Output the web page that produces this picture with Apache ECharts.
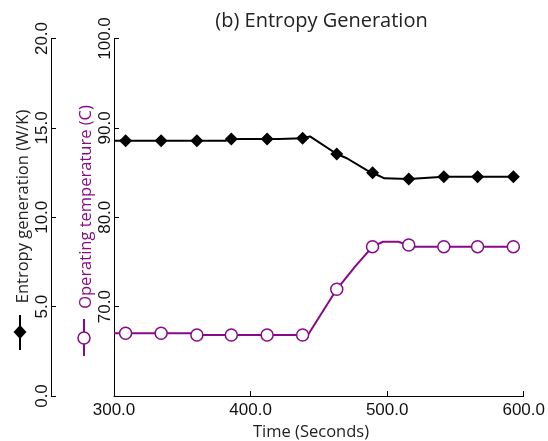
<!DOCTYPE html>
<html>
<head>
<meta charset="utf-8">
<script src="https://cdn.jsdelivr.net/npm/echarts@6/dist/echarts.min.js"></script>
<style>
html,body{margin:0;padding:0;background:#fff;}
#chart{width:548px;height:441px;}
</style>
</head>
<body>
<div id="chart"></div>
<script>
// Marker times (seconds)
var markerTimes = [308.5, 334.5, 360.7, 385.9, 412.1, 438.1, 463.1, 489.3, 515.8, 541.5, 566.2, 592.4];
// Entropy generation (W/K) at markers
var entropyMarkers = [14.28, 14.28, 14.28, 14.38, 14.38, 14.42, 13.54, 12.49, 12.14, 12.27, 12.27, 12.27];
// Operating temperature (C) at markers
var tempMarkers = [67.02, 67.02, 66.83, 66.83, 66.83, 66.83, 71.94, 76.71, 76.90, 76.71, 76.71, 76.71];
// Full entropy trace: times and values
var entropyTimes = [300, 308.5, 334.5, 360.7, 381.5, 382.5, 385.9, 412.1, 421, 422, 438.1, 443.5, 463.1, 470.5, 485, 489.3, 498, 515.8, 541.5, 566.2, 592.4];
var entropyValues = [14.28, 14.28, 14.28, 14.28, 14.28, 14.38, 14.38, 14.38, 14.38, 14.42, 14.42, 14.52, 13.54, 13.30, 12.64, 12.49, 12.18, 12.14, 12.27, 12.27, 12.27];
// Full temperature trace: times and values
var tempTimes = [300, 308.5, 334.5, 356, 357, 360.7, 385.9, 412.1, 438.1, 442, 452, 463.1, 476.5, 489.3, 497, 508, 515.8, 520, 541.5, 566.2, 592.4];
var tempValues = [67.02, 67.02, 67.02, 67.02, 66.83, 66.83, 66.83, 66.83, 66.83, 66.83, 69.25, 71.94, 74.47, 76.71, 77.26, 77.26, 76.90, 76.71, 76.71, 76.71, 76.71];
// Texts
var titleText = '(b) Entropy Generation';
var xName = 'Time (Seconds)';
var entropyName = 'Entropy generation (W/K)';
var tempName = 'Operating temperature (C)';

function zip(a, b) { return a.map(function (v, i) { return [v, b[i]]; }); }

var PURPLE = '#880a88';
var TXT = '#222';
var TICK = '#111';
var tickFont = '"Liberation Sans", Arial, sans-serif';
var nameFont = '"Open Sans", sans-serif';

var chart = echarts.init(document.getElementById('chart'), null, {renderer: 'canvas'});
var option = {
  backgroundColor: '#fff',
  animation: false,
  grid: {left: 114, right: 22, top: 38.5, bottom: 45, containLabel: false},
  xAxis: {
    type: 'value', min: 300, max: 600, interval: 100,
    axisLine: {lineStyle: {color: '#000', width: 1}},
    axisTick: {inside: true, length: 5, lineStyle: {color: '#000'}},
    splitLine: {show: false},
    axisLabel: {color: TICK, fontFamily: tickFont, fontSize: 17, margin: 6,
      formatter: function (v) { return v.toFixed(1); }}
  },
  yAxis: [
    {
      type: 'value', min: 60, max: 100, interval: 10, position: 'left', offset: 0,
      axisLine: {show: true, lineStyle: {color: '#000', width: 1}},
      axisTick: {show: true, inside: true, length: 5, lineStyle: {color: '#000'}},
      splitLine: {show: false},
      axisLabel: {color: TICK, fontFamily: tickFont, fontSize: 17, rotate: 90, margin: 0, showMinLabel: false,
        formatter: function (v) { return v.toFixed(1); }}
    },
    {
      type: 'value', min: 0, max: 20, interval: 5, position: 'left', offset: 63,
      axisLine: {show: true, lineStyle: {color: '#000', width: 1}},
      axisTick: {show: true, inside: true, length: 5, lineStyle: {color: '#000'}},
      splitLine: {show: false},
      axisLabel: {color: TICK, fontFamily: tickFont, fontSize: 17, rotate: 90, margin: 0,
        formatter: function (v) { return v.toFixed(1); }}
    }
  ],
  series: [
    {type: 'line', yAxisIndex: 1, data: zip(entropyTimes, entropyValues), showSymbol: false,
      lineStyle: {color: '#000', width: 2}, itemStyle: {color: '#000'}, z: 2},
    {type: 'line', yAxisIndex: 0, data: zip(tempTimes, tempValues), showSymbol: false,
      lineStyle: {color: PURPLE, width: 2}, itemStyle: {color: PURPLE}, z: 2},
    {type: 'scatter', yAxisIndex: 1, data: zip(markerTimes, entropyMarkers), symbol: 'diamond', symbolSize: 13,
      itemStyle: {color: '#000', opacity: 1}, z: 3},
    {type: 'scatter', yAxisIndex: 0, data: zip(markerTimes, tempMarkers), symbol: 'circle', symbolSize: 12,
      itemStyle: {color: '#fff', borderColor: PURPLE, borderWidth: 1.5, opacity: 1}, z: 3}
  ],
  graphic: [
    {type: 'text', x: 321.5, y: 21, style: {text: titleText, font: '20px ' + nameFont, fill: TXT,
      textAlign: 'center', textVerticalAlign: 'middle', align: 'center', verticalAlign: 'middle'}},
    {type: 'text', x: 311, y: 432, style: {text: xName, font: '16.5px ' + nameFont, fill: TXT,
      textAlign: 'center', textVerticalAlign: 'middle', align: 'center', verticalAlign: 'middle'}},
    {type: 'text', x: 23.5, y: 206.5, rotation: Math.PI / 2, style: {text: entropyName, font: '16.5px ' + nameFont, fill: TXT,
      textAlign: 'center', textVerticalAlign: 'middle', align: 'center', verticalAlign: 'middle'}},
    {type: 'text', x: 86.5, y: 207, rotation: Math.PI / 2, style: {text: tempName, font: '16.5px ' + nameFont, fill: PURPLE,
      textAlign: 'center', textVerticalAlign: 'middle', align: 'center', verticalAlign: 'middle'}},
    {type: 'line', shape: {x1: 20, y1: 315, x2: 20, y2: 350}, style: {stroke: '#000', lineWidth: 2}},
    {type: 'polygon', shape: {points: [[20, 325], [26.5, 332], [20, 339], [13.5, 332]]}, style: {fill: '#000'}},
    {type: 'line', shape: {x1: 84, y1: 319, x2: 84, y2: 356}, style: {stroke: PURPLE, lineWidth: 2}},
    {type: 'circle', shape: {cx: 84, cy: 338, r: 6}, style: {fill: '#fff', stroke: PURPLE, lineWidth: 1.5}}
  ]
};
chart.setOption(option);
</script>
</body>
</html>
